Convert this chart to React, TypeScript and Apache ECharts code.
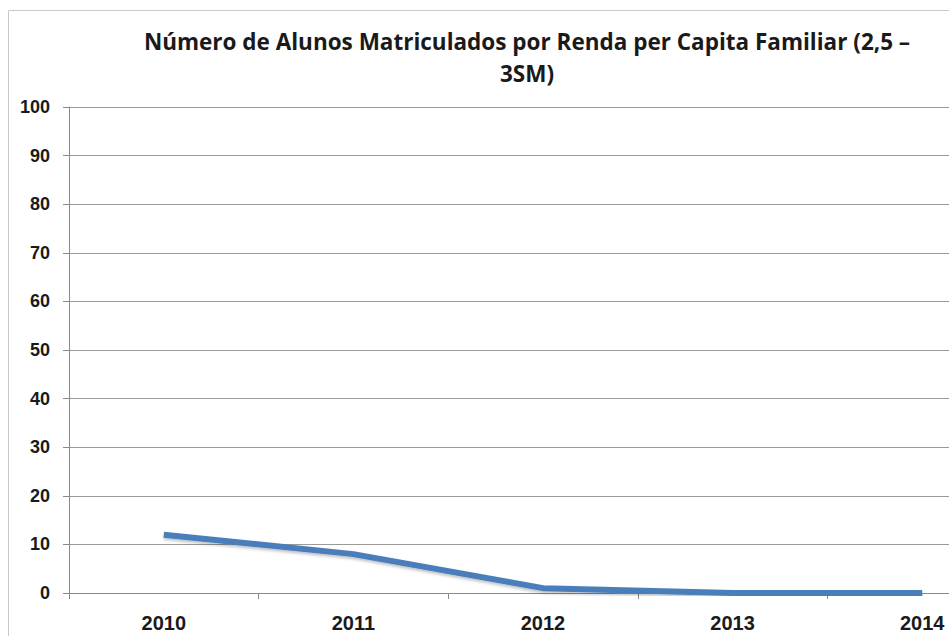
import React, { useEffect, useRef } from "react";
import * as echarts from "echarts";

const titleText = "Número de Alunos Matriculados por Renda per Capita Familiar (2,5 –\n3SM)";
const years = ["2010", "2011", "2012", "2013", "2014"];
const alunos = [12, 8, 1, 0, 0];
const yTicks = { min: 0, max: 100, interval: 10 };

export default function App() {
  const ref = useRef<HTMLDivElement>(null);
  useEffect(() => {
    if (!ref.current) return;
    const chart = echarts.init(ref.current, null, { renderer: "svg" });
    const font = "'Liberation Sans', Arial, sans-serif";
    chart.setOption({
      animation: false,
      backgroundColor: "#ffffff",
      graphic: [
        {
          type: "rect",
          shape: { x: 8.5, y: 10.5, width: 1100, height: 800 },
          style: { fill: "none", stroke: "#c8c8c8", lineWidth: 1 },
          z: 0,
        },
      ],
      title: {
        text: titleText,
        left: 522,
        top: 20,
        textAlign: "center",
        textStyle: {
          fontFamily: "'Open Sans', sans-serif",
          fontWeight: "bold",
          fontSize: 22.5,
          lineHeight: 32,
          color: "#1a1a1a",
        },
      },
      grid: { left: 69, top: 107, bottom: 43, right: 23, containLabel: false },
      xAxis: {
        type: "category",
        data: years,
        boundaryGap: true,
        axisLine: { lineStyle: { color: "#8a8a8a", width: 1 } },
        axisTick: { show: true, length: 6, lineStyle: { color: "#8a8a8a" } },
        axisLabel: {
          margin: 20,
          fontFamily: font,
          fontWeight: "bold",
          fontSize: 20,
          color: "#1a1a1a",
        },
        splitLine: { show: false },
      },
      yAxis: {
        type: "value",
        min: yTicks.min,
        max: yTicks.max,
        interval: yTicks.interval,
        axisLine: { show: true, lineStyle: { color: "#8a8a8a", width: 1 } },
        axisTick: { show: true, length: 6, lineStyle: { color: "#8a8a8a" } },
        axisLabel: {
          margin: 19,
          fontFamily: font,
          fontWeight: "bold",
          fontSize: 18,
          color: "#1a1a1a",
        },
        splitLine: { show: true, lineStyle: { color: "#9a9a9a", width: 1 } },
      },
      series: [
        {
          type: "line",
          data: alunos,
          showSymbol: false,
          symbol: "none",
          lineStyle: {
            color: "#4a7ebb",
            width: 6,
            shadowColor: "rgba(0,0,0,0.25)",
            shadowBlur: 3,
            shadowOffsetY: 2,
          },
          itemStyle: { color: "#4a7ebb" },
        },
      ],
    });
    return () => chart.dispose();
  }, []);
  return (
    <div style={{ position: "fixed", left: 0, top: 0, width: 949, height: 636, overflow: "hidden" }}>
      <div ref={ref} style={{ width: 1040, height: 636 }} />
    </div>
  );
}
